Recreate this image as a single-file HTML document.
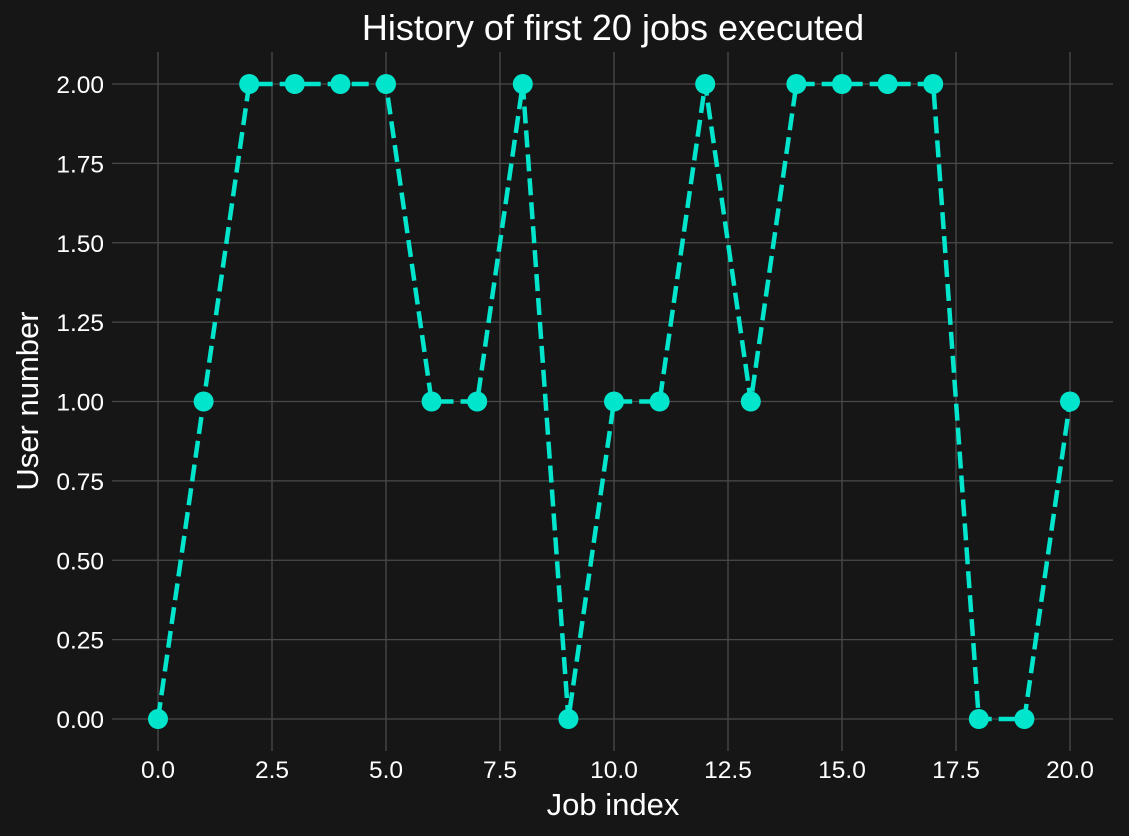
<!DOCTYPE html>
<html><head><meta charset="utf-8"><style>
html,body{margin:0;padding:0;background:#161616;}
svg{display:block;font-family:"Liberation Sans",Arial,sans-serif;}
</style></head><body>
<svg id="chart" width="1129" height="836">
<rect width="1129" height="836" fill="#161616"/>
<g id="grid"></g>
<g id="ticks"></g>
<g id="series"></g>
<text x="613" y="40" fill="#ffffff" font-size="36" text-anchor="middle">History of first 20 jobs executed</text>
<text x="613" y="815" fill="#ffffff" font-size="31" text-anchor="middle">Job index</text>
<text transform="translate(38,401) rotate(-90)" fill="#ffffff" font-size="31" text-anchor="middle">User number</text>
</svg>
<script>
const xValues=[0,1,2,3,4,5,6,7,8,9,10,11,12,13,14,15,16,17,18,19,20];
const userValues=[0,1,2,2,2,2,1,1,2,0,1,1,2,1,2,2,2,2,0,0,1];
const xTicks=[0,2.5,5,7.5,10,12.5,15,17.5,20];
const xTickLabels=["0.0","2.5","5.0","7.5","10.0","12.5","15.0","17.5","20.0"];
const yTicks=[0,0.25,0.5,0.75,1,1.25,1.5,1.75,2];
const yTickLabels=["0.00","0.25","0.50","0.75","1.00","1.25","1.50","1.75","2.00"];

const NS="http://www.w3.org/2000/svg";
const L=112,R=1113,T=52,B=751;
const xs=v=>158+(v-0)*(1070-158)/20;
const ys=v=>719-(v-0)*(719-84)/2;
function mk(tag,attrs,parent){const e=document.createElementNS(NS,tag);for(const k in attrs)e.setAttribute(k,attrs[k]);parent.appendChild(e);return e;}
const grid=document.getElementById('grid'),ticks=document.getElementById('ticks'),series=document.getElementById('series');
xTicks.forEach((t,i)=>{
  const l=mk('line',{x1:xs(t),x2:xs(t),y1:T,y2:B,stroke:'#4a4a4a','stroke-width':1.3},grid);
  
  
  const tx=mk('text',{x:xs(t),y:778,fill:'#ffffff','font-size':24.5,'text-anchor':'middle'},ticks);
  tx.textContent=xTickLabels[i];
  
  
});
yTicks.forEach((t,i)=>{
  const l=mk('line',{x1:L,x2:R,y1:ys(t),y2:ys(t),stroke:'#4a4a4a','stroke-width':1.3},grid);
  
  
  const tx=mk('text',{x:104,y:ys(t)+9,fill:'#ffffff','font-size':24.5,'text-anchor':'end'},ticks);
  tx.textContent=yTickLabels[i];
  
  
});
const pts=xValues.map((x,i)=>xs(x)+','+ys(userValues[i])).join(' ');
const pl=mk('polyline',{points:pts,fill:'none',stroke:'#00e5cc','stroke-width':4.5,'stroke-dasharray':'17,7'},series);


xValues.forEach((x,i)=>{
  const c=mk('circle',{cx:xs(x),cy:ys(userValues[i]),r:10,fill:'#00e5cc'},series);
  
  
});
</script>
</body></html>
